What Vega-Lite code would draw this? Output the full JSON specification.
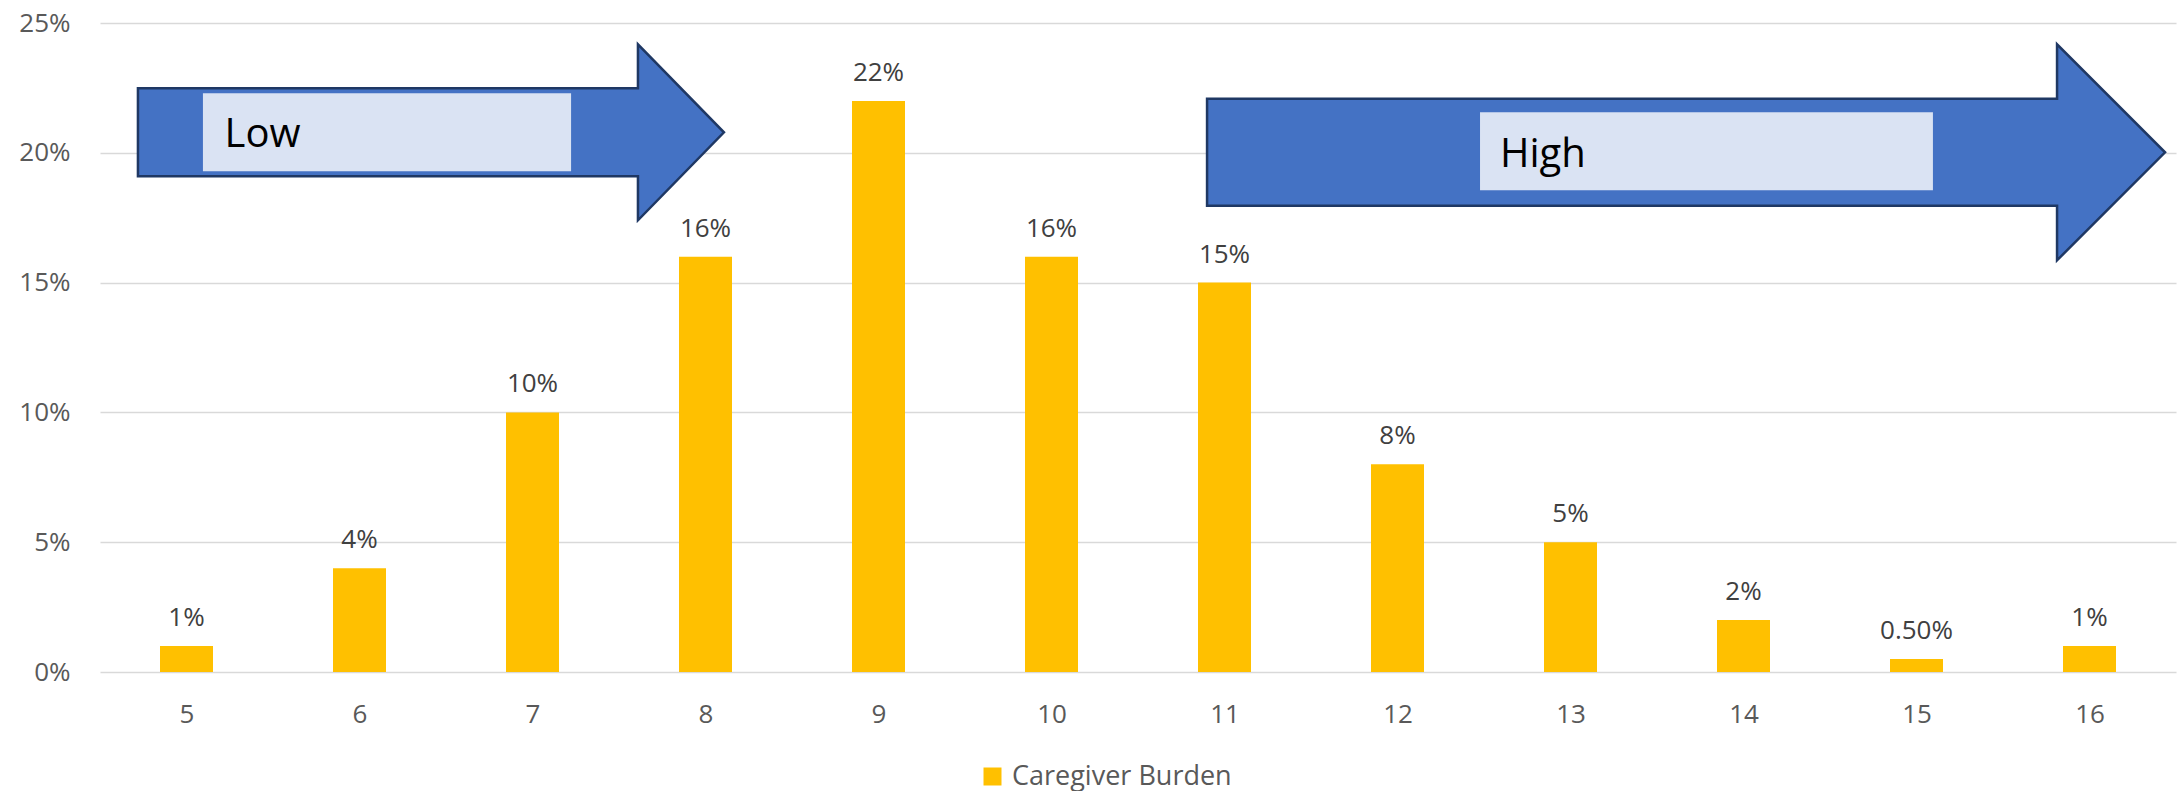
{
  "$schema": "https://vega.github.io/schema/vega-lite/v6.json",
  "width": 2076,
  "height": 649,
  "autosize": {"type": "none"},
  "padding": {"left": 100, "top": 23, "right": 2, "bottom": 119},
  "background": "white",
  "config": {
    "view": {"stroke": null},
    "font": "Open Sans",
    "axis": {"labelFont": "Open Sans", "labelFontSize": 26, "labelColor": "#595959"},
    "legend": {"labelFont": "Open Sans"}
  },
  "datasets": {
    "bars": [
      {"score": 5, "share": 0.01, "label": "1%"},
      {"score": 6, "share": 0.04, "label": "4%"},
      {"score": 7, "share": 0.10, "label": "10%"},
      {"score": 8, "share": 0.16, "label": "16%"},
      {"score": 9, "share": 0.22, "label": "22%"},
      {"score": 10, "share": 0.16, "label": "16%"},
      {"score": 11, "share": 0.15, "label": "15%"},
      {"score": 12, "share": 0.08, "label": "8%"},
      {"score": 13, "share": 0.05, "label": "5%"},
      {"score": 14, "share": 0.02, "label": "2%"},
      {"score": 15, "share": 0.005, "label": "0.50%"},
      {"score": 16, "share": 0.01, "label": "1%"}
    ],
    "notes": [
      {"label": "Low", "ax": 6.413, "ay": 0.2079, "bx0": 5.095, "bx1": 7.223, "by0": 0.1929, "by1": 0.2229, "tx": 5.22, "ty": 0.2021},
      {"label": "High", "ax": 13.668, "ay": 0.2002, "bx0": 12.477, "bx1": 15.095, "by0": 0.1856, "by1": 0.2156, "tx": 12.592, "ty": 0.1944}
    ]
  },
  "layer": [
    {
      "data": {"name": "bars"},
      "mark": {"type": "bar", "width": 53},
      "encoding": {
        "x": {
          "field": "score", "type": "quantitative",
          "scale": {"domain": [4.5, 16.5], "nice": false, "zero": false, "padding": 0},
          "axis": {"values": [5, 6, 7, 8, 9, 10, 11, 12, 13, 14, 15, 16], "format": "d", "title": null, "grid": false, "domain": false, "ticks": false, "tickSize": 0, "labelPadding": 29, "labelBaseline": "top"}
        },
        "y": {
          "field": "share", "type": "quantitative",
          "scale": {"domain": [0, 0.25], "nice": false},
          "axis": {"values": [0, 0.05, 0.1, 0.15, 0.2, 0.25], "format": ".0%", "title": null, "domain": false, "ticks": false, "tickSize": 0, "labelPadding": 30, "gridColor": "#D9D9D9", "gridWidth": 1.3}
        },
        "color": {
          "datum": "Caregiver Burden",
          "scale": {"range": ["#FFC000"]},
          "legend": {"title": null, "orient": "none", "legendX": 879, "legendY": 740, "direction": "horizontal", "symbolType": "square", "symbolSize": 324, "symbolStrokeWidth": 0, "labelFontSize": 27, "labelColor": "#595959", "labelOffset": 6, "labelLimit": 0, "padding": 0}
        }
      }
    },
    {
      "data": {"name": "bars"},
      "mark": {"type": "text", "baseline": "alphabetic", "dy": -20, "fontSize": 26, "color": "#404040"},
      "encoding": {
        "x": {"field": "score", "type": "quantitative"},
        "y": {"field": "share", "type": "quantitative"},
        "text": {"field": "label"}
      }
    },
    {
      "data": {"name": "notes"},
      "transform": [{"filter": "datum.label === 'Low'"}],
      "mark": {"type": "point", "filled": true, "opacity": 1, "fill": "#4472C4", "stroke": "#1F3864", "strokeWidth": 2.5, "size": 343396,
        "shape": "M-1,-0.1502 L0.7065,-0.1502 L0.7065,-0.3003 L1,0 L0.7065,0.3003 L0.7065,0.1502 L-1,0.1502 Z"},
      "encoding": {
        "x": {"field": "ax", "type": "quantitative"},
        "y": {"field": "ay", "type": "quantitative"}
      }
    },
    {
      "data": {"name": "notes"},
      "transform": [{"filter": "datum.label === 'High'"}],
      "mark": {"type": "point", "filled": true, "opacity": 1, "fill": "#4472C4", "stroke": "#1F3864", "strokeWidth": 2.5, "size": 917764,
        "shape": "M-1,-0.1117 L0.7745,-0.1117 L0.7745,-0.2255 L1,0 L0.7745,0.2255 L0.7745,0.1117 L-1,0.1117 Z"},
      "encoding": {
        "x": {"field": "ax", "type": "quantitative"},
        "y": {"field": "ay", "type": "quantitative"}
      }
    },
    {
      "data": {"name": "notes"},
      "mark": {"type": "rect", "color": "#DAE3F3"},
      "encoding": {
        "x": {"field": "bx0", "type": "quantitative"},
        "x2": {"field": "bx1"},
        "y": {"field": "by0", "type": "quantitative"},
        "y2": {"field": "by1"}
      }
    },
    {
      "data": {"name": "notes"},
      "mark": {"type": "text", "align": "left", "baseline": "alphabetic", "fontSize": 40, "color": "#000000"},
      "encoding": {
        "x": {"field": "tx", "type": "quantitative"},
        "y": {"field": "ty", "type": "quantitative"},
        "text": {"field": "label"}
      }
    }
  ]
}
